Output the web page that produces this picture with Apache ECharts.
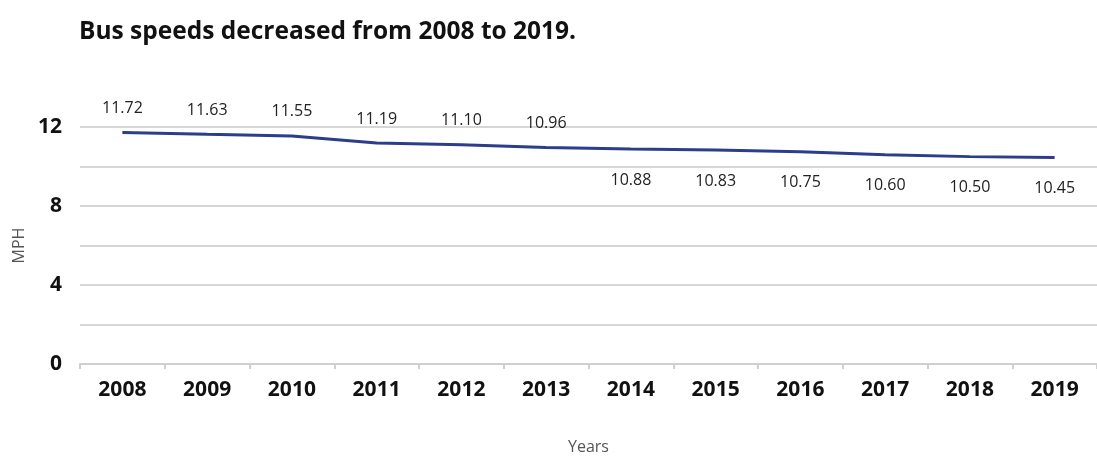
<!DOCTYPE html>
<html><head><meta charset="utf-8">
<script src="https://cdn.jsdelivr.net/npm/echarts@6/dist/echarts.min.js"></script>
<style>html,body{margin:0;padding:0;background:#fff}#c{width:1097px;height:458px}</style>
</head><body><div id="c"></div>
<script>
const years = ['2008','2009','2010','2011','2012','2013','2014','2015','2016','2017','2018','2019'];
const speeds = [11.72, 11.63, 11.55, 11.19, 11.10, 10.96, 10.88, 10.83, 10.75, 10.60, 10.50, 10.45];
const labelAbove = [true, true, true, true, true, true, false, false, false, false, false, false];
const yTicks = [0, 4, 8, 12];

const chart = echarts.init(document.getElementById('c'), null, {renderer:'canvas'});
const font = 'Open Sans';
chart.setOption({
  animation: false,
  title: {
    text: 'Bus speeds decreased from 2008 to 2019.',
    left: 74, top: 15,
    textStyle: {fontFamily: font, fontWeight: 'bold', fontSize: 24.5, color: '#111'}
  },
  grid: {left: 80, right: 0, top: 127, bottom: 94, containLabel: false, outerBoundsMode: 'none'},
  xAxis: {
    type: 'category', data: years, boundaryGap: true,
    name: 'Years', nameLocation: 'middle', nameGap: 75,
    nameTextStyle: {fontFamily: font, fontSize: 16, color: '#555'},
    axisLine: {lineStyle: {color: '#cfcfcf', width: 2}},
    axisTick: {show: true, length: 5, lineStyle: {color: '#cfcfcf', width: 2}},
    axisLabel: {fontFamily: font, fontWeight: 'bold', fontSize: 21, color: '#111', margin: 16}
  },
  yAxis: {
    type: 'value', min: 0, max: 12, interval: 2,
    name: 'MPH', nameLocation: 'middle', nameGap: 51, nameRotate: 90,
    nameTextStyle: {fontFamily: font, fontSize: 16, color: '#555'},
    axisLine: {show: false}, axisTick: {show: false},
    splitLine: {lineStyle: {color: '#d6d6d6', width: 2}},
    axisLabel: {
      fontFamily: font, fontWeight: 'bold', fontSize: 21, color: '#111', margin: 18,
      formatter: v => yTicks.includes(v) ? String(v) : ''
    }
  },
  series: [{
    type: 'line', data: speeds.map((v, i) => ({
      value: v,
      label: {show: true, position: labelAbove[i] ? 'top' : 'bottom', distance: labelAbove[i] ? 16 : 23}
    })),
    symbol: 'circle', symbolSize: 0, showSymbol: true, smooth: false,
    itemStyle: {color: '#2b3d8b'},
    lineStyle: {color: '#2b3d8b', width: 3},
    label: {
      show: true, fontFamily: font, fontSize: 16, color: '#222',
      formatter: p => p.value.toFixed(2)
    }
  }]
});
</script></body></html>
